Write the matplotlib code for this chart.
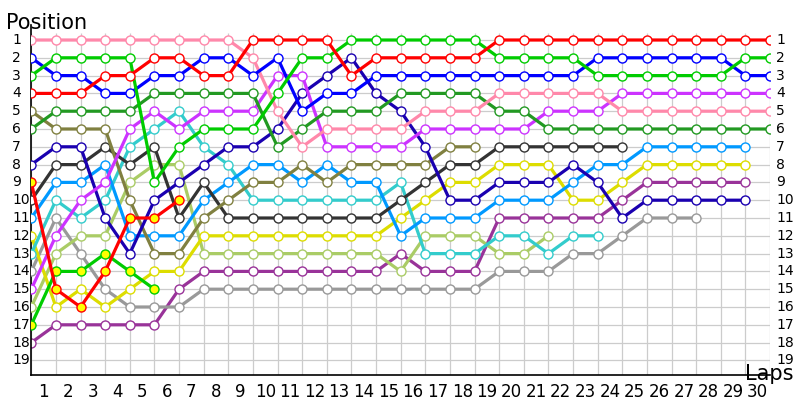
import matplotlib
matplotlib.use("Agg")
import matplotlib.pyplot as plt

# Positions per lap (lap 0 = start), one list per car
laps = list(range(0, 31))
positions = list(range(1, 20))
lap_labels = [str(k) for k in range(1, 31)]

pink = [1,1,1,1,1,1,1,1,1,2,5,7,6,6,6,6,5,5,5,4,4,4,4,4,5,5,5,5,5,5,5]
red = [4,4,4,3,3,2,2,3,3,1,1,1,1,3,2,2,2,2,2,1,1,1,1,1,1,1,1,1,1,1,1]
green = [3,2,2,2,2,9,7,6,6,6,4,2,2,1,1,1,1,1,1,2,2,2,2,3,3,3,3,3,3,2,2]
blue = [2,3,3,4,4,3,3,2,2,3,2,5,4,4,3,3,3,3,3,3,3,3,3,2,2,2,2,2,2,3,3]
dkgreen = [6,5,5,5,5,4,4,4,4,4,7,6,5,5,5,4,4,4,4,5,5,6,6,6,6,6,6,6,6,6,6]
navy = [8,7,7,11,13,10,9,8,7,7,6,4,3,2,4,5,7,10,10,9,9,9,8,9,11,10,10,10,10,10]
olive = [5,6,6,6,10,13,13,11,10,9,9,8,9,8,8,8,8,7,7]
black = [10,8,8,7,8,7,11,9,11,11,11,11,11,11,11,10,9,8,8,7,7,7,7,7,7]
lightblue = [11,9,9,8,12,12,12,10,9,8,8,9,8,9,9,12,11,11,11,10,10,10,9,8,8,7,7,7,7,7]
yellow = [12,16,15,16,15,14,14,12,12,12,12,12,12,12,12,11,10,9,9,8,8,8,10,10,9,8,8,8,8,8]
cyan = [13,10,11,10,7,6,5,7,8,10,10,10,10,10,10,9,13,13,13,12,12,13,12,12]
gray = [14,11,13,15,16,16,16,15,15,15,15,15,15,15,15,15,15,15,15,14,14,14,13,13,12,11,11,11]
violet = [15,12,10,9,6,5,6,5,5,5,3,3,7,7,7,7,6,6,6,6,6,5,5,5,4,4,4,4,4,4,4]
purple = [18,17,17,17,17,17,15,14,14,14,14,14,14,14,14,13,14,14,14,11,11,11,11,11,10,9,9,9,9,9]
yellowgreen = [16,13,12,12,9,8,8,13,13,13,13,13,13,13,13,14,12,12,12,13,13,12]
red2 = [9,15,16,14,11,11,10]
green2 = [17,14,14,13,14,15]

series = [
    (purple, '#993399', 'white'),
    (gray, '#999999', 'white'),
    (yellowgreen, '#AACC66', 'white'),
    (yellow, '#DDDD00', 'white'),
    (cyan, '#33CCCC', 'white'),
    (lightblue, '#0099FF', 'white'),
    (black, '#333333', 'white'),
    (olive, '#808040', 'white'),
    (navy, '#1A00B0', 'white'),
    (violet, '#CC33FF', 'white'),
    (dkgreen, '#229922', 'white'),
    (pink, '#FF88AA', 'white'),
    (blue, '#0000FF', 'white'),
    (green, '#00CC00', 'white'),
    (red, '#FF0000', 'white'),
    (green2, '#00CC00', '#FFFF00'),
    (red2, '#FF0000', '#FFFF00'),
]

W, H = 800, 400
fig = plt.figure(figsize=(8, 4), dpi=100)
x0, x1 = 31.3, 770.0
ytop, ybot = 25.0, 375.0
ax = fig.add_axes([x0 / W, 1 - ybot / H, (x1 - x0) / W, (ybot - ytop) / H])

pos_spacing = 17.8
top_val = 1 + (ytop - 40) / pos_spacing
bot_val = 1 + (ybot - 40) / pos_spacing
ax.set_xlim(laps[0], laps[-1])
ax.set_ylim(bot_val, top_val)

grid_c = '#CCCCCC'
ax.hlines(positions, laps[0], laps[-1], colors=grid_c, lw=0.9, zorder=0)
ax.vlines(laps, 1 + (33 - 40) / pos_spacing, bot_val, colors=grid_c, lw=0.9, zorder=0)

for i, (vals, col, fill) in enumerate(series):
    ax.plot(laps[:len(vals)], vals, color=col, lw=2.3, marker='o', ms=6.5,
            mfc=fill, mec=col, mew=1.0, zorder=2 + i, solid_joinstyle='round')

for s in ['top', 'right']:
    ax.spines[s].set_visible(False)
for s in ['left', 'bottom']:
    ax.spines[s].set_color('black')
    ax.spines[s].set_linewidth(1.2)

ax.set_yticks([])
ax.set_xticks([k - 0.5 for k in range(1, 31)])
ax.set_xticklabels(lap_labels, fontsize=12)
ax.tick_params(axis='x', length=0, pad=6)

ytr = ax.get_yaxis_transform()
lx = (12 - x0) / (x1 - x0)
rx = (776 - x0) / (x1 - x0)
for p in positions:
    ax.text(lx, p, str(p), transform=ytr, ha='left', va='center', fontsize=10, clip_on=False)
    ax.text(rx, p, str(p), transform=ytr, ha='left', va='center', fontsize=10, clip_on=False)

fig.text(6 / W, 1 - 29 / H, 'Position', fontsize=15, ha='left', va='baseline')
fig.text(745 / W, 1 - 380 / H, 'Laps', fontsize=15, ha='left', va='baseline')

fig.savefig('out.png', dpi=100)
